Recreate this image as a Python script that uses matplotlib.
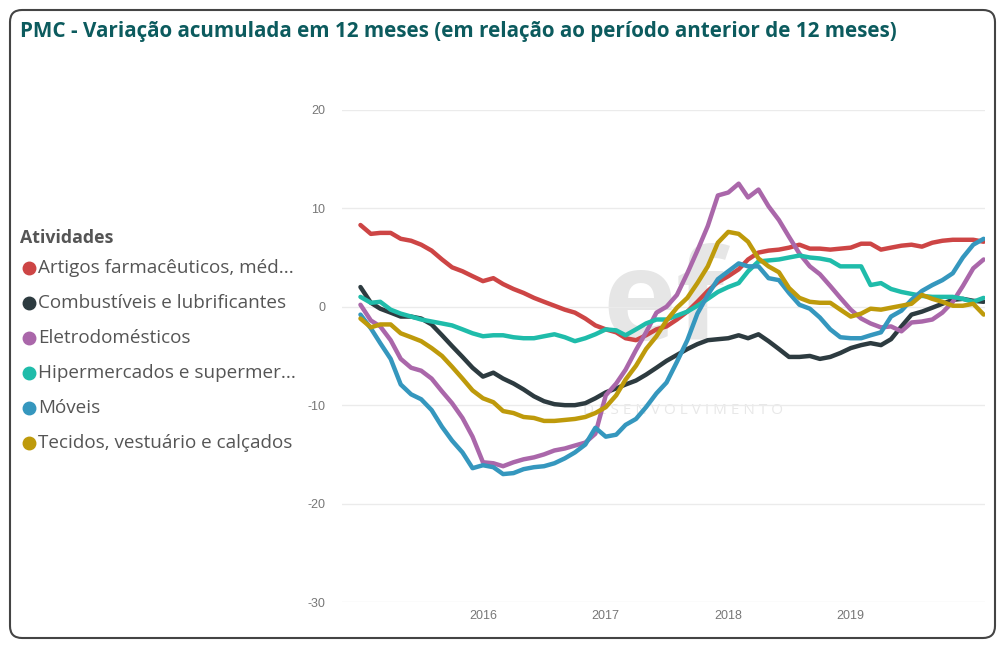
import pandas as pd
import matplotlib.pyplot as plt
import matplotlib.dates as mdates
from matplotlib.patches import FancyBboxPatch
from matplotlib.lines import Line2D
from matplotlib.transforms import IdentityTransform

plt.rcParams['font.family'] = ['Open Sans', 'DejaVu Sans']
plt.rcParams['axes.unicode_minus'] = False

# monthly, Jan 2015 .. Feb 2020
datas = pd.date_range('2015-01-01', periods=62, freq='MS')

artigos = [8.3, 7.4, 7.5, 7.5, 6.9, 6.7, 6.3, 5.7, 4.8, 4.0, 3.6, 3.1, 2.6, 2.9, 2.3, 1.8,
           1.4, 0.9, 0.5, 0.1, -0.3, -0.6, -1.2, -1.9, -2.3, -2.6, -3.2, -3.4, -2.9, -2.3,
           -2.0, -1.3, -0.5, 0.5, 1.6, 2.5, 3.1, 3.8, 4.8, 5.5, 5.7, 5.8, 6.0, 6.3, 5.9,
           5.9, 5.8, 5.9, 6.0, 6.4, 6.4, 5.8, 6.0, 6.2, 6.3, 6.1, 6.5, 6.7, 6.8, 6.8, 6.8, 6.6]
combustiveis = [2.0, 0.4, -0.2, -0.6, -1.0, -1.0, -1.2, -1.8, -2.9, -4.0, -5.1, -6.2, -7.1,
                -6.7, -7.3, -7.8, -8.4, -9.1, -9.6, -9.9, -10.0, -10.0, -9.8, -9.3, -8.7,
                -8.3, -7.9, -7.5, -6.9, -6.2, -5.5, -4.9, -4.3, -3.8, -3.4, -3.3, -3.2,
                -2.9, -3.2, -2.8, -3.5, -4.3, -5.1, -5.1, -5.0, -5.3, -5.1, -4.7, -4.2,
                -3.9, -3.7, -3.9, -3.3, -2.0, -0.8, -0.5, -0.1, 0.3, 0.7, 0.8, 0.6, 0.5]
eletro = [0.2, -1.4, -2.0, -3.4, -5.3, -6.2, -6.5, -7.3, -8.6, -9.8, -11.3, -13.2, -15.8,
          -15.9, -16.2, -15.8, -15.5, -15.3, -15.0, -14.6, -14.4, -14.1, -13.8, -12.9,
          -9.0, -7.8, -6.4, -4.4, -2.6, -0.6, 0.0, 1.2, 3.4, 5.7, 8.2, 11.3, 11.6, 12.5,
          11.1, 11.9, 10.2, 8.8, 7.1, 5.4, 4.1, 3.3, 2.1, 0.9, -0.3, -1.2, -1.7, -2.1,
          -2.0, -2.5, -1.6, -1.5, -1.3, -0.6, 0.5, 2.1, 3.9, 4.8]
hiper = [1.0, 0.4, 0.5, -0.3, -0.7, -1.0, -1.3, -1.5, -1.7, -1.9, -2.3, -2.7, -3.0, -2.9,
         -2.9, -3.1, -3.2, -3.2, -3.0, -2.8, -3.1, -3.5, -3.2, -2.8, -2.3, -2.4, -2.9,
         -2.3, -1.7, -1.3, -1.3, -0.9, -0.5, 0.1, 0.8, 1.5, 2.0, 2.4, 3.6, 4.6, 4.7, 4.8,
         5.0, 5.2, 5.0, 4.9, 4.7, 4.1, 4.1, 4.1, 2.2, 2.4, 1.8, 1.5, 1.3, 1.1, 1.0, 1.0,
         1.0, 0.8, 0.5, 0.9]
moveis = [-0.8, -2.2, -3.7, -5.3, -7.9, -8.9, -9.4, -10.5, -12.2, -13.6, -14.8, -16.4,
          -16.1, -16.3, -17.0, -16.9, -16.5, -16.3, -16.2, -15.9, -15.4, -14.8, -14.0,
          -12.3, -13.2, -13.0, -12.0, -11.4, -10.2, -8.8, -7.7, -5.6, -3.4, -0.7, 1.2, 2.8,
          3.6, 4.4, 4.1, 4.1, 2.9, 2.7, 1.4, 0.2, -0.2, -1.1, -2.3, -3.1, -3.2, -3.2, -2.9,
          -2.6, -1.0, -0.4, 0.7, 1.6, 2.2, 2.7, 3.4, 5.0, 6.3, 6.9]
tecidos = [-1.2, -2.1, -1.8, -1.8, -2.7, -3.1, -3.5, -4.2, -5.0, -6.1, -7.3, -8.5, -9.3,
           -9.7, -10.6, -10.8, -11.2, -11.3, -11.6, -11.6, -11.5, -11.4, -11.2, -10.8,
           -10.2, -9.0, -7.4, -6.0, -4.3, -3.0, -1.4, -0.1, 0.9, 2.4, 4.1, 6.5, 7.6, 7.4,
           6.6, 4.9, 4.1, 3.5, 1.9, 0.9, 0.5, 0.4, 0.4, -0.3, -1.0, -0.7, -0.2, -0.3, -0.1,
           0.1, 0.3, 1.2, 0.8, 0.5, 0.1, 0.1, 0.3, -0.8]

nomes = ['Artigos farmacêuticos, méd...', 'Combustíveis e lubrificantes', 'Eletrodomésticos',
         'Hipermercados e supermer...', 'Móveis', 'Tecidos, vestuário e calçados']
series = [artigos, combustiveis, eletro, hiper, moveis, tecidos]
cores = ['#CD4545', '#2D3B40', '#AA67AA', '#1FBCAA', '#3597BE', '#BE9A0B']

fig = plt.figure(figsize=(10, 6.46), dpi=100)
ax = fig.add_axes([0.342, 0.068, 0.643, 0.762])

# marca d'água
ax.text(0.5, 0.6, 'ef', transform=ax.transAxes, fontsize=90, fontweight='bold',
        color='#E6E6E6', ha='center', va='center', zorder=0)
ax.text(0.53, 0.39, 'D E S E N V O L V I M E N T O', transform=ax.transAxes, fontsize=11,
        color='#E8E8E8', ha='center', va='center', zorder=0)

for nome, valores, cor in zip(nomes, series, cores):
    ax.plot(datas, valores, color=cor, lw=3.2, solid_joinstyle='round',
            solid_capstyle='round', label=nome, zorder=3)

ax.set_ylim(-30, 20)
ax.set_yticks([-30, -20, -10, 0, 10, 20])
ax.set_xlim(pd.Timestamp('2014-11-07'), pd.Timestamp('2020-02-05'))
ax.set_xticks([pd.Timestamp(f'{a}-01-01') for a in [2016, 2017, 2018, 2019]])
ax.xaxis.set_major_formatter(mdates.DateFormatter('%Y'))
ax.grid(axis='y', color='#EBEBEB', lw=1)
ax.set_axisbelow(True)
for s in ax.spines.values():
    s.set_visible(False)
ax.tick_params(length=0, labelsize=9, labelcolor='#777777')
for lab in ax.get_xticklabels() + ax.get_yticklabels():
    lab.set_family('Liberation Sans')
ax.tick_params(axis='y', pad=12)
ax.tick_params(axis='x', pad=6)

# título
fig.text(0.02, 0.951, 'PMC - Variação acumulada em 12 meses (em relação ao período anterior de 12 meses)',
         fontsize=14.9, fontweight='bold', color='#0C5B5E', va='center', ha='left')

# legenda
fig.text(0.02, 1 - 238 / 646, 'Atividades', fontsize=12.8, fontweight='bold',
         color='#555555', va='center')
for i, (nome, cor) in enumerate(zip(nomes, cores)):
    y = 1 - (268 + 35 * i) / 646
    fig.add_artist(Line2D([0.029], [y], marker='o', markersize=9, color=cor,
                          transform=fig.transFigure))
    fig.text(0.038, y, nome, fontsize=13.6, color='#555555', va='center')

# moldura
moldura = FancyBboxPatch((10, 8), 985, 628, boxstyle='round,pad=0,rounding_size=12',
                         transform=IdentityTransform(), fill=False, ec='#444444', lw=1.5)
fig.add_artist(moldura)

fig.savefig('out.png', dpi=100)
